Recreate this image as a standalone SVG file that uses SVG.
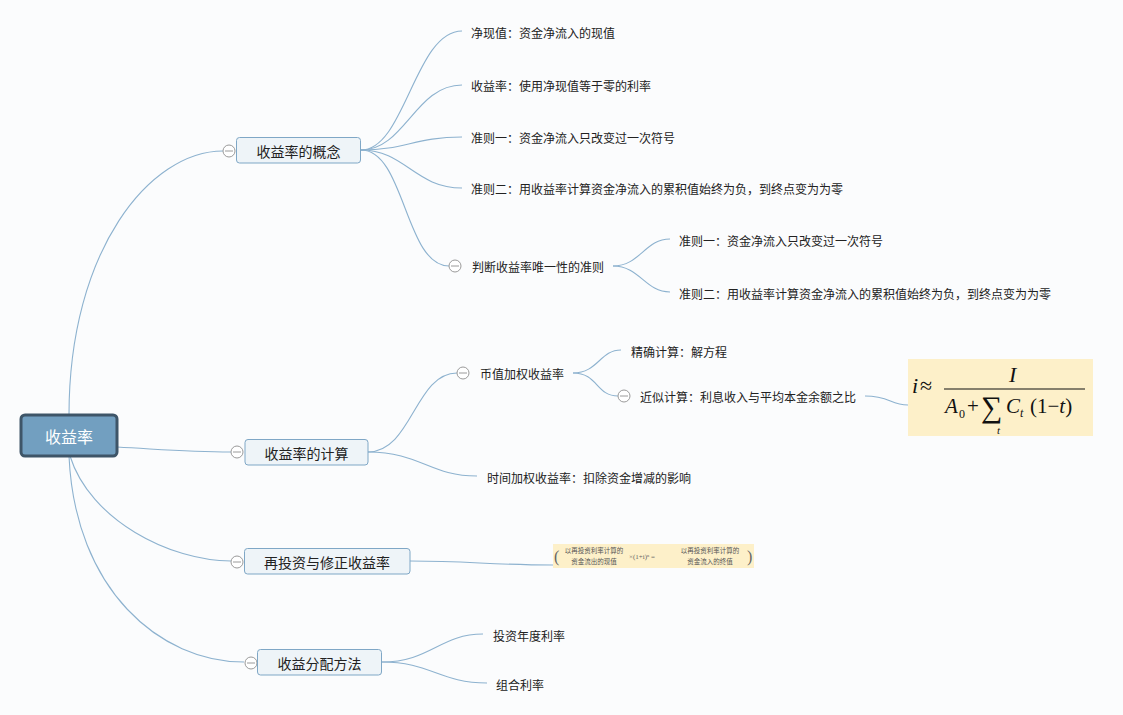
<svg xmlns="http://www.w3.org/2000/svg" width="1123" height="715" viewBox="0 0 1123 715">
<style>
.bg{fill:#fbfcfd}
.ln{fill:none;stroke:#8db2cf;stroke-width:1.1}
.box{fill:#eef4f8;stroke:#7fa7c6;stroke-width:1}
.nt{font-family:"Noto Sans CJK SC","Microsoft YaHei",sans-serif;font-size:14px;fill:#222;text-anchor:middle;dominant-baseline:central}
.lt{font-family:"Noto Sans CJK SC","Microsoft YaHei",sans-serif;font-size:12px;fill:#222;dominant-baseline:central}
.cc{fill:#fff;stroke:#9a9a9a;stroke-width:1}
.cl{stroke:#9a9a9a;stroke-width:1}
.fm{font-family:"Liberation Serif","Times New Roman",serif;fill:#111}
.sm{font-family:"Noto Sans CJK SC",sans-serif;font-size:6.5px;fill:#555;text-anchor:middle}
</style>
<defs>
<g id="col"><circle class="cc" r="6"/><line class="cl" x1="-4" y1="0" x2="4" y2="0"/></g>
</defs>
<rect class="bg" x="0" y="0" width="1123" height="715"/>
<g id="connectors">
<path class="ln" d="M69,415 C69,250 150,151 223,151"/>
<path class="ln" d="M117,447 C170,450 190,452 231,452"/>
<path class="ln" d="M70,456 C90,520 170,561 231,561"/>
<path class="ln" d="M69,456 C75,590 160,662 244,662"/>
<path class="ln" d="M361,150 C405,150 415,31 462,31"/>
<path class="ln" d="M361,150 C405,150 415,85 462,85"/>
<path class="ln" d="M361,150 C405,150 415,137 462,137"/>
<path class="ln" d="M361,150 C405,150 415,188 462,188"/>
<path class="ln" d="M361,150 C405,150 405,266 449,266"/>
<path class="ln" d="M613,266 C640,266 645,239 670,239"/>
<path class="ln" d="M613,266 C640,266 645,292 670,292"/>
<path class="ln" d="M368,452 C412,452 415,373 457,373"/>
<path class="ln" d="M368,452 C420,452 430,476 477,476"/>
<path class="ln" d="M573,373 C598,373 600,350 621,350"/>
<path class="ln" d="M573,373 C598,373 596,396 618,396"/>
<path class="ln" d="M865,396 C890,396 890,405 908,405"/>
<path class="ln" d="M410,561 C470,561 490,565 553,565"/>
<path class="ln" d="M382,662 C430,662 440,634 483,634"/>
<path class="ln" d="M382,662 C430,662 440,683 487,683"/>
</g>
<g id="root">
<rect x="21" y="415" width="96" height="41" rx="4" fill="#729fc0" stroke="#3e5568" stroke-width="3"/>
<text x="69" y="436" class="nt" style="font-size:16px;fill:#fff">收益率</text>
</g>
<g id="n-concept">
<use href="#col" x="229" y="151"/>
<rect class="box" x="236.5" y="137.5" width="124" height="25.5" rx="3"/>
<text class="nt" x="298.5" y="150.5">收益率的概念</text>
</g>
<g id="n-calc">
<use href="#col" x="237" y="452"/>
<rect class="box" x="245" y="439.5" width="123" height="25.5" rx="3"/>
<text class="nt" x="306.5" y="452.5">收益率的计算</text>
</g>
<g id="n-reinvest">
<use href="#col" x="237" y="562"/>
<rect class="box" x="244.5" y="548.5" width="165.5" height="25.5" rx="3"/>
<text class="nt" x="327" y="561.5">再投资与修正收益率</text>
</g>
<g id="n-alloc">
<use href="#col" x="251" y="663"/>
<rect class="box" x="257.5" y="649.5" width="124" height="25.5" rx="3"/>
<text class="nt" x="319.5" y="662.5">收益分配方法</text>
</g>
<g id="l1"><text class="lt" x="471" y="32">净现值：资金净流入的现值</text></g>
<g id="l2"><text class="lt" x="471" y="85">收益率：使用净现值等于零的利率</text></g>
<g id="l3"><text class="lt" x="471" y="137">准则一：资金净流入只改变过一次符号</text></g>
<g id="l4"><text class="lt" x="471" y="188">准则二：用收益率计算资金净流入的累积值始终为负，到终点变为为零</text></g>
<g id="l5"><use href="#col" x="455" y="266"/><text class="lt" x="472" y="266">判断收益率唯一性的准则</text></g>
<g id="l5a"><text class="lt" x="679" y="240">准则一：资金净流入只改变过一次符号</text></g>
<g id="l5b"><text class="lt" x="679" y="293">准则二：用收益率计算资金净流入的累积值始终为负，到终点变为为零</text></g>
<g id="l6"><use href="#col" x="463" y="373"/><text class="lt" x="480" y="373">币值加权收益率</text></g>
<g id="l6a"><text class="lt" x="631" y="351">精确计算：解方程</text></g>
<g id="l6b"><use href="#col" x="624" y="396"/><text class="lt" x="640" y="396">近似计算：利息收入与平均本金余额之比</text></g>
<g id="l7"><text class="lt" x="487" y="477">时间加权收益率：扣除资金增减的影响</text></g>
<g id="l8"><text class="lt" x="493" y="635">投资年度利率</text></g>
<g id="l9"><text class="lt" x="496" y="684">组合利率</text></g>
<g id="formula1">
<rect x="908" y="359" width="185" height="77" fill="#fdf0c9"/>
<text class="fm" x="912" y="393" style="font-size:22px;font-style:italic">i</text>
<text class="fm" x="920" y="393" style="font-size:22px">≈</text>
<line x1="944" y1="389" x2="1085" y2="389" stroke="#111" stroke-width="1.2"/>
<text class="fm" x="1009" y="382" style="font-size:22px;font-style:italic">I</text>
<text class="fm" x="945" y="413" style="font-size:21px;font-style:italic">A</text>
<text class="fm" x="959" y="418" style="font-size:12px">0</text>
<text class="fm" x="967" y="413" style="font-size:21px">+</text>
<text class="fm" x="981" y="417" style="font-size:30px">∑</text>
<text class="fm" x="997" y="434" style="font-size:11px;font-style:italic">t</text>
<text class="fm" x="1006" y="413" style="font-size:21px;font-style:italic">C</text>
<text class="fm" x="1020" y="417" style="font-size:12px;font-style:italic">t</text>
<text class="fm" x="1030" y="413" style="font-size:21px">(1−<tspan font-style="italic">t</tspan>)</text>
</g>
<g id="formula2">
<rect x="553" y="544" width="201" height="24" fill="#fdf0c9"/>
<text class="fm" x="554" y="562" style="font-size:16px;fill:#666">(</text>
<text class="sm" x="594" y="553">以再投资利率计算的</text>
<text class="sm" x="594" y="564">资金流出的现值</text>
<text class="fm" x="629" y="559" style="font-size:7px;fill:#666">×(1+i)ⁿ =</text>
<text class="sm" x="710" y="553">以再投资利率计算的</text>
<text class="sm" x="710" y="564">资金流入的终值</text>
<text class="fm" x="747" y="562" style="font-size:16px;fill:#666">)</text>
</g>
</svg>
